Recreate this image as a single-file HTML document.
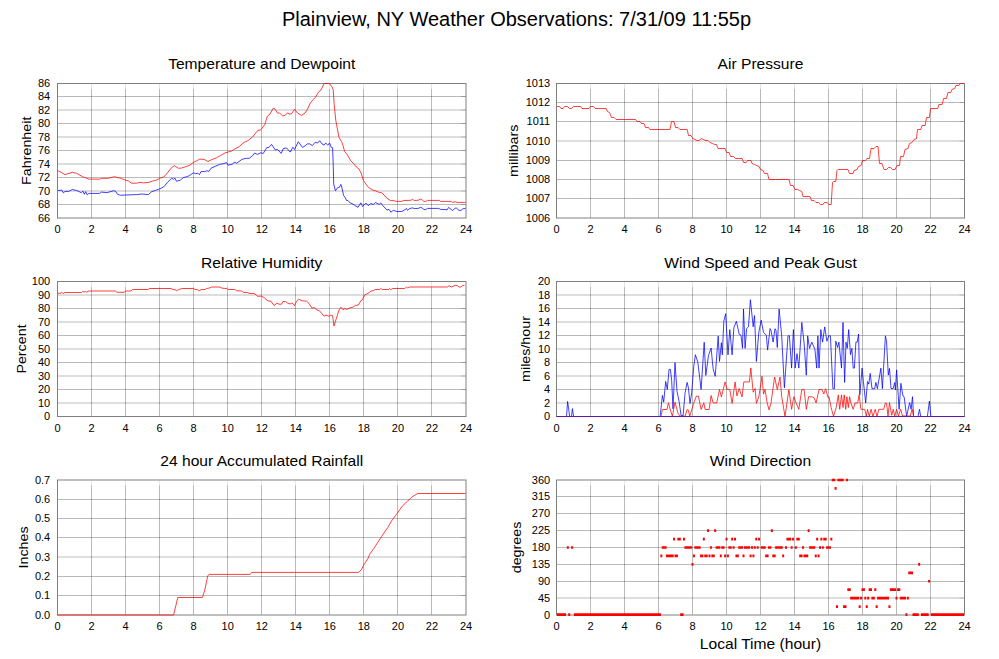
<!DOCTYPE html>
<html><head><meta charset="utf-8"><title>Plainview, NY Weather Observations</title>
<style>html,body{margin:0;padding:0;background:#fff;overflow:hidden}svg{display:block}</style>
</head><body>
<svg width="999" height="659" viewBox="0 0 999 659" font-family='"Liberation Sans", Arial, Helvetica, sans-serif' fill="#000">
<rect width="999" height="659" fill="#fff"/>
<text x="516.5" y="26" text-anchor="middle" font-size="20">Plainview, NY Weather Observations: 7/31/09 11:55p</text>
<path d="M91.5 89V218M125.5 89V218M159.5 89V218M193.5 89V218M227.5 89V218M261.5 89V218M295.5 89V218M329.5 89V218M363.5 89V218M397.5 89V218M431.5 89V218M57.5 96.5H461M57.5 110H461M57.5 123.5H461M57.5 137H461M57.5 150.5H461M57.5 164H461M57.5 177.5H461M57.5 191H461M57.5 204.5H461" stroke="#000" stroke-opacity="0.27" stroke-width="1" fill="none"/>
<path d="M91.5 83.5V89M125.5 83.5V89M159.5 83.5V89M193.5 83.5V89M227.5 83.5V89M261.5 83.5V89M295.5 83.5V89M329.5 83.5V89M363.5 83.5V89M397.5 83.5V89M431.5 83.5V89" stroke="#000" stroke-opacity="0.1" stroke-width="1" fill="none"/>
<path d="M461 96.5H466M461 110H466M461 123.5H466M461 137H466M461 150.5H466M461 164H466M461 177.5H466M461 191H466M461 204.5H466" stroke="#000" stroke-opacity="0.4" stroke-width="1" fill="none"/>
<rect x="57.5" y="83.5" width="408.5" height="134.5" stroke="#808080" stroke-width="1" fill="none"/>
<polyline points="58,190.5 59.1,190.5 61.8,190 63.4,192.9 65,191.4 68.7,191.4 72.4,189.5 76.7,190.5 81.4,192.7 83,191.1 84.4,194.3 85.7,191.6 87.3,194.8 88.9,193.4 99.5,193.4 101.6,192.1 106.9,192.7 113.3,190.8 115.4,191.1 117.5,194.3 120.7,195.3 125,195 136.7,194.6 142,194 148.4,194.6 151.6,191.7 155.8,190.3 160.1,188.7 163.8,186.8 167.5,182.4 171.7,178.1 173.3,179.4 174.9,178.1 176.5,181.3 180.2,180.2 183.4,177.6 187.7,176.5 190.3,174.9 193.5,172.8 195.7,173.7 197.8,173.2 199.4,174.8 201,171.6 204.7,171.6 206.8,170.8 208.9,171.4 211.1,168.2 215.3,166.3 219.6,164.4 223.8,163.6 226.5,162.6 228.1,165.2 232.3,164 235,162 236.6,163.3 241.9,159.4 246.1,158.3 249.3,158.3 252.5,155.7 254.6,153 257.3,154.4 261,152.7 263.1,153.6 266.8,147.6 269,147.3 271.6,144.4 275.3,150 277.5,149.4 281.2,153.4 283.3,148.6 286.5,147.9 290.2,152.1 292.9,147.3 294.5,149.4 298.4,141.7 302.4,147.3 305,146 307.1,143.9 309.8,143.9 312.4,145.5 315.1,142.3 317.7,143 319.7,140.7 322,143.9 324.1,145.1 325.7,143 327.8,145.1 329.6,143 331.4,147.5 332.6,147.7 333.3,166.9 333.7,183.9 335.4,190.8 337.7,187.6 339.3,187.3 340.9,184.4 342,188.1 343.6,195.5 345,197.2 346.4,200.3 348.2,200.7 350.3,203.1 352,203.5 354.8,205.4 358,207.3 360.8,202.8 362.5,206.5 366,203.1 368.1,205.6 370.9,203.5 373.4,204.5 375.5,202.4 377.9,203.8 379.3,204.4 380.7,202.8 382.8,205.6 387,210.1 389.1,209.4 390.9,212.2 393.4,210.3 396.9,211.5 401.8,211.5 405.3,209.4 406.5,208.4 407.6,210.4 409.2,208.7 412.2,207.9 414.8,208.6 418,208.4 420.6,207.4 421.9,207.8 423.9,209.4 425.8,209.6 427.4,208.4 438.8,208.4 440.5,209.4 446,209.6 447,210 448.6,207.4 449.9,208.4 451.5,209.7 452.8,210.5 454.4,208.7 456.1,207.8 459,210.4 461,210.4 462.6,208.9 465.5,208.4" stroke="#0000ff" stroke-width="1" stroke-opacity="0.75" fill="none" stroke-linejoin="round"/>
<polyline points="58,171 59.1,171.2 65,174.6 72.4,172.3 76.7,173.3 82.5,176.7 88.9,179.1 99.5,179.2 101.6,178.3 108,178.3 114.4,176.7 120.7,178.3 125,180 128.2,180.8 131.4,183.2 136.7,183.2 139.9,182.4 143.6,182.9 148.9,182.4 152.6,181.1 156.9,180 160.1,178.1 163.8,177 167.5,172.8 171.7,167.5 174.4,165.7 178.6,168.3 181.8,168 186.6,166.4 189.8,165.2 193,162.6 196.2,161 199.9,159.1 204.2,159.4 207.9,161.5 211.6,159.7 216.4,157.8 220.6,155.5 224.9,153 228.1,152 231.2,151.2 235.5,148.5 239.2,146.6 244,142.4 247.7,140.8 252.5,137.1 257.8,130.4 259.9,130.2 261,129.5 264.7,124.7 267.4,116.2 270,114.1 273.2,108.3 274.8,108.8 277.5,113.1 279.6,113.1 282.8,116 285.4,115.2 287.6,112.8 289.1,113.9 291.3,114.1 294.5,109.3 297.6,113.1 301.4,115.4 305,113 307.1,109.9 310.3,103 313,99.8 315.6,97.1 318.3,92.3 320.9,90.2 324.1,83.5 329.4,83.5 332.1,87 333.2,89.7 334.2,104.6 335.8,120.5 337.4,129 339,137.5 341.6,141.7 342.5,144 344.7,151.5 347.3,154.7 350.5,160.5 353.7,163.7 356.3,166.9 359,169 361.1,173.2 363.4,180.4 366,184.2 368.8,187.7 373,190.2 375.8,190.9 379.3,192.5 381.4,192.6 384.2,195.1 387,198.4 390.5,200.5 394.1,200.7 396.2,201.4 401.8,201.4 403.2,200.5 410.9,200.3 412.5,199.3 414.4,200.5 418,200.3 420.3,199.2 421.9,199.6 423.9,201.4 425.8,201.4 427.4,200.4 439.5,200.4 440.5,201.4 451.2,201.4 452.5,202.4 455.7,201.8 457,202.4 465.5,202.4" stroke="#ff0000" stroke-width="1" stroke-opacity="0.75" fill="none" stroke-linejoin="round"/>
<text x="57.5" y="233" text-anchor="middle" font-size="11">0</text>
<text x="91.54" y="233" text-anchor="middle" font-size="11">2</text>
<text x="125.58" y="233" text-anchor="middle" font-size="11">4</text>
<text x="159.62" y="233" text-anchor="middle" font-size="11">6</text>
<text x="193.67" y="233" text-anchor="middle" font-size="11">8</text>
<text x="227.71" y="233" text-anchor="middle" font-size="11">10</text>
<text x="261.75" y="233" text-anchor="middle" font-size="11">12</text>
<text x="295.79" y="233" text-anchor="middle" font-size="11">14</text>
<text x="329.83" y="233" text-anchor="middle" font-size="11">16</text>
<text x="363.88" y="233" text-anchor="middle" font-size="11">18</text>
<text x="397.92" y="233" text-anchor="middle" font-size="11">20</text>
<text x="431.96" y="233" text-anchor="middle" font-size="11">22</text>
<text x="466" y="233" text-anchor="middle" font-size="11">24</text>
<text x="50.2" y="222" text-anchor="end" font-size="11">66</text>
<text x="50.2" y="208" text-anchor="end" font-size="11">68</text>
<text x="50.2" y="195" text-anchor="end" font-size="11">70</text>
<text x="50.2" y="181" text-anchor="end" font-size="11">72</text>
<text x="50.2" y="168" text-anchor="end" font-size="11">74</text>
<text x="50.2" y="154" text-anchor="end" font-size="11">76</text>
<text x="50.2" y="141" text-anchor="end" font-size="11">78</text>
<text x="50.2" y="127" text-anchor="end" font-size="11">80</text>
<text x="50.2" y="114" text-anchor="end" font-size="11">82</text>
<text x="50.2" y="100" text-anchor="end" font-size="11">84</text>
<text x="50.2" y="87" text-anchor="end" font-size="11">86</text>
<text transform="translate(261.75 68.8) scale(1.04 1)" text-anchor="middle" font-size="15">Temperature and Dewpoint</text>
<text transform="translate(31.3 150.75) rotate(-90) scale(1 0.92)" text-anchor="middle" font-size="14.3">Fahrenheit</text>
<path d="M590.5 89V218M624.5 89V218M658.5 89V218M692.5 89V218M726.5 89V218M760.5 89V218M794.5 89V218M828.5 89V218M862.5 89V218M896.5 89V218M930.5 89V218M556.5 102.5H959.5M556.5 121.5H959.5M556.5 141H959.5M556.5 160.5H959.5M556.5 179.5H959.5M556.5 198.5H959.5" stroke="#000" stroke-opacity="0.27" stroke-width="1" fill="none"/>
<path d="M590.5 83.5V89M624.5 83.5V89M658.5 83.5V89M692.5 83.5V89M726.5 83.5V89M760.5 83.5V89M794.5 83.5V89M828.5 83.5V89M862.5 83.5V89M896.5 83.5V89M930.5 83.5V89" stroke="#000" stroke-opacity="0.1" stroke-width="1" fill="none"/>
<path d="M959.5 102.5H964.5M959.5 121.5H964.5M959.5 141H964.5M959.5 160.5H964.5M959.5 179.5H964.5M959.5 198.5H964.5" stroke="#000" stroke-opacity="0.4" stroke-width="1" fill="none"/>
<rect x="556.5" y="83.5" width="408" height="134.5" stroke="#808080" stroke-width="1" fill="none"/>
<polyline points="557,106.5 559.5,106.5 561,108.5 563,108.5 564.5,106.5 567.5,106.5 569.5,108.5 571.5,108.5 573.5,106.5 580.5,106.5 582,108.5 589,108.5 590.5,106.5 593.5,106.5 595,108.5 606.2,108.5 607.5,111.5 609.5,112.5 611.5,117.5 614,117.5 616,119.5 635.5,119.5 637,121.5 640,121.5 641.5,123.5 644,123.5 645.5,127.5 648.5,127.5 650,129.5 670,129.5 671.5,121.5 674,121.5 675.5,127.5 678,127.5 679.8,129.5 687.2,129.5 688.5,135.5 691,135.5 692.8,138.5 695,139.5 697,140.5 699,140.5 701.5,138.5 703.5,139.5 705.5,140.5 708,140.5 710,142.5 712.5,143.5 714.5,144.5 716.5,144.5 718,148.5 725,148.5 726.6,152.5 729.1,152.5 730.6,156.5 733.6,156.5 735.6,158.5 742.1,158.5 743.6,162.5 746.1,162.5 747.6,160.5 751,160.5 752,163.5 754.5,164.5 756.5,165.5 759,166.5 760.5,169.5 763,170.5 764.5,173.5 767.5,173.5 769,179.5 789,179.5 790.5,185.5 793,185.5 795,189.5 797.5,189.5 799.5,190.5 801.8,191.5 803,196.5 810,196.5 811.5,200.5 814,200.5 816,202.5 818.5,202.5 820.5,204.5 823,204.5 824.5,202.5 827,202.5 828.8,204.5 831.2,204.5 832.5,182.5 833.5,181.5 835.8,181.5 837,170.5 838,169.5 848,169.5 849.5,173.5 853,173.5 854,170.5 857,169.5 858.5,166.5 861,165.5 862.5,160.5 865.5,160.5 867,158.5 869.5,158.5 871,148.5 874,148.5 876,146.5 878,146.5 879.5,163.5 882,163.5 884,169.5 886.5,169.5 888.5,167.5 890.5,167.5 892.5,169.5 895,169.5 897,165.5 899.5,165.5 900.5,156.5 903.5,156.5 905,149.5 908,148.5 909.5,143.5 912,142.5 914,139.5 916.5,138.5 917.5,129.5 920.8,129.5 922,125.5 925.1,125.5 926.5,117.5 929.4,117.5 930.6,108.5 937.7,108.5 938.9,104.5 942.1,104.5 943.6,98.5 946.4,98.5 948,92.5 950.7,92.5 951.9,89.5 954.7,88.5 955.9,85.5 958.6,85.5 960.6,83.5 964,83.5" stroke="#ff0000" stroke-width="1" stroke-opacity="0.75" fill="none" stroke-linejoin="round"/>
<text x="556.5" y="233" text-anchor="middle" font-size="11">0</text>
<text x="590.5" y="233" text-anchor="middle" font-size="11">2</text>
<text x="624.5" y="233" text-anchor="middle" font-size="11">4</text>
<text x="658.5" y="233" text-anchor="middle" font-size="11">6</text>
<text x="692.5" y="233" text-anchor="middle" font-size="11">8</text>
<text x="726.5" y="233" text-anchor="middle" font-size="11">10</text>
<text x="760.5" y="233" text-anchor="middle" font-size="11">12</text>
<text x="794.5" y="233" text-anchor="middle" font-size="11">14</text>
<text x="828.5" y="233" text-anchor="middle" font-size="11">16</text>
<text x="862.5" y="233" text-anchor="middle" font-size="11">18</text>
<text x="896.5" y="233" text-anchor="middle" font-size="11">20</text>
<text x="930.5" y="233" text-anchor="middle" font-size="11">22</text>
<text x="964.5" y="233" text-anchor="middle" font-size="11">24</text>
<text x="550.2" y="222" text-anchor="end" font-size="11">1006</text>
<text x="550.2" y="202" text-anchor="end" font-size="11">1007</text>
<text x="550.2" y="183" text-anchor="end" font-size="11">1008</text>
<text x="550.2" y="164" text-anchor="end" font-size="11">1009</text>
<text x="550.2" y="145" text-anchor="end" font-size="11">1010</text>
<text x="550.2" y="125" text-anchor="end" font-size="11">1011</text>
<text x="550.2" y="106" text-anchor="end" font-size="11">1012</text>
<text x="550.2" y="87" text-anchor="end" font-size="11">1013</text>
<text transform="translate(760.5 68.8) scale(1.04 1)" text-anchor="middle" font-size="15">Air Pressure</text>
<text transform="translate(517.6 150.75) rotate(-90) scale(1 0.92)" text-anchor="middle" font-size="14.3">millibars</text>
<path d="M91.5 287V416.5M125.5 287V416.5M159.5 287V416.5M193.5 287V416.5M227.5 287V416.5M261.5 287V416.5M295.5 287V416.5M329.5 287V416.5M363.5 287V416.5M397.5 287V416.5M431.5 287V416.5M57.5 295H461M57.5 308.5H461M57.5 322H461M57.5 335.5H461M57.5 349H461M57.5 362.5H461M57.5 376H461M57.5 389.5H461M57.5 403H461" stroke="#000" stroke-opacity="0.27" stroke-width="1" fill="none"/>
<path d="M91.5 281.5V287M125.5 281.5V287M159.5 281.5V287M193.5 281.5V287M227.5 281.5V287M261.5 281.5V287M295.5 281.5V287M329.5 281.5V287M363.5 281.5V287M397.5 281.5V287M431.5 281.5V287" stroke="#000" stroke-opacity="0.1" stroke-width="1" fill="none"/>
<path d="M461 295H466M461 308.5H466M461 322H466M461 335.5H466M461 349H466M461 362.5H466M461 376H466M461 389.5H466M461 403H466" stroke="#000" stroke-opacity="0.4" stroke-width="1" fill="none"/>
<rect x="57.5" y="281.5" width="408.5" height="135" stroke="#808080" stroke-width="1" fill="none"/>
<polyline points="58,293.3 60.5,293.3 61.8,292.3 62.5,292.8 63.5,293.5 64.8,292.5 81.5,292.5 82.8,291.3 84,292.3 85.3,291.3 86.8,292.3 88,291.3 89,291 115.5,291 117,292.3 124,292.3 126,291 131,291 132.5,289.5 148,289.5 149.5,288.5 171,288.5 173,289.5 175,289.7 176.5,290.8 179,289.5 182,288.5 193.5,288.5 195,289.5 197.5,289.7 199.3,290.8 201.5,289.5 205,289.5 206.5,288.5 209.5,288 211.5,287 220,287 222,288.2 227,288.5 228,289.5 234.5,289.5 236.5,290.7 241.5,291 243.5,292.3 247.5,292.5 249,293.3 253,293.5 255,294 257.5,296.2 261.5,296.2 264,297.5 268,301 271,301.2 274,305.5 277,303.2 279,304.2 281.5,304.2 283,301.5 285.5,301.5 287.5,303 290,304 291.5,303.2 293,303.5 294.5,305.8 296.5,301.5 298.5,299.2 302,300.8 306.5,301.2 309,303.5 312,308.2 314,307.5 317,310 319.5,310.8 324,316.2 326,315.2 329,316.2 330.5,315.2 332.5,315.5 334,326 336,319.5 339,310 341,307.2 343,309.8 345,308.5 346.5,309.5 349,308.2 353,307.1 355.4,305.4 358.4,305 360.8,300.8 362,300.2 365,294.8 368,293.4 371,291 373.4,290.6 375.2,289.5 379.4,289.5 380.6,288.6 382.4,289.5 388.4,289.5 389.6,288.6 390.8,289.7 392.6,288.5 404.7,288.5 406.5,287 407.7,287.8 409.5,287 447.3,287 449.1,285.8 451.5,287 455.1,285.4 457.5,285.8 459.9,287.4 462.3,285.8 464.5,285.2" stroke="#ff0000" stroke-width="1" stroke-opacity="0.75" fill="none" stroke-linejoin="round"/>
<text x="57.5" y="431.5" text-anchor="middle" font-size="11">0</text>
<text x="91.54" y="431.5" text-anchor="middle" font-size="11">2</text>
<text x="125.58" y="431.5" text-anchor="middle" font-size="11">4</text>
<text x="159.62" y="431.5" text-anchor="middle" font-size="11">6</text>
<text x="193.67" y="431.5" text-anchor="middle" font-size="11">8</text>
<text x="227.71" y="431.5" text-anchor="middle" font-size="11">10</text>
<text x="261.75" y="431.5" text-anchor="middle" font-size="11">12</text>
<text x="295.79" y="431.5" text-anchor="middle" font-size="11">14</text>
<text x="329.83" y="431.5" text-anchor="middle" font-size="11">16</text>
<text x="363.88" y="431.5" text-anchor="middle" font-size="11">18</text>
<text x="397.92" y="431.5" text-anchor="middle" font-size="11">20</text>
<text x="431.96" y="431.5" text-anchor="middle" font-size="11">22</text>
<text x="466" y="431.5" text-anchor="middle" font-size="11">24</text>
<text x="50.2" y="420" text-anchor="end" font-size="11">0</text>
<text x="50.2" y="407" text-anchor="end" font-size="11">10</text>
<text x="50.2" y="393" text-anchor="end" font-size="11">20</text>
<text x="50.2" y="380" text-anchor="end" font-size="11">30</text>
<text x="50.2" y="366" text-anchor="end" font-size="11">40</text>
<text x="50.2" y="353" text-anchor="end" font-size="11">50</text>
<text x="50.2" y="339" text-anchor="end" font-size="11">60</text>
<text x="50.2" y="326" text-anchor="end" font-size="11">70</text>
<text x="50.2" y="312" text-anchor="end" font-size="11">80</text>
<text x="50.2" y="299" text-anchor="end" font-size="11">90</text>
<text x="50.2" y="285" text-anchor="end" font-size="11">100</text>
<text transform="translate(261.75 267.9) scale(1.04 1)" text-anchor="middle" font-size="15">Relative Humidity</text>
<text transform="translate(25.8 349) rotate(-90) scale(1 0.92)" text-anchor="middle" font-size="14.3">Percent</text>
<path d="M590.5 287V416.5M624.5 287V416.5M658.5 287V416.5M692.5 287V416.5M726.5 287V416.5M760.5 287V416.5M794.5 287V416.5M828.5 287V416.5M862.5 287V416.5M896.5 287V416.5M930.5 287V416.5M556.5 295H959.5M556.5 308.5H959.5M556.5 322H959.5M556.5 335.5H959.5M556.5 349H959.5M556.5 362.5H959.5M556.5 376H959.5M556.5 389.5H959.5M556.5 403H959.5" stroke="#000" stroke-opacity="0.27" stroke-width="1" fill="none"/>
<path d="M590.5 281.5V287M624.5 281.5V287M658.5 281.5V287M692.5 281.5V287M726.5 281.5V287M760.5 281.5V287M794.5 281.5V287M828.5 281.5V287M862.5 281.5V287M896.5 281.5V287M930.5 281.5V287" stroke="#000" stroke-opacity="0.1" stroke-width="1" fill="none"/>
<path d="M959.5 295H964.5M959.5 308.5H964.5M959.5 322H964.5M959.5 335.5H964.5M959.5 349H964.5M959.5 362.5H964.5M959.5 376H964.5M959.5 389.5H964.5M959.5 403H964.5" stroke="#000" stroke-opacity="0.4" stroke-width="1" fill="none"/>
<rect x="556.5" y="281.5" width="408" height="135" stroke="#808080" stroke-width="1" fill="none"/>
<polyline points="557,416.5 566.5,416.5 567.6,401.4 569.7,416.5 571.5,416.5 572.4,408.6 573.6,416.5 660.1,416.5 662.4,395.5 663.7,402.2 665.7,381.4 667.3,389.5 669,369.4 670.4,369.4 671.7,380.8 673,408.8 675,362.7 677,391.5 679.1,401.5 681.1,415.5 683.1,415.5 685.1,392.8 687.1,382.4 688.4,387.5 690,403.5 691.7,392.8 693.8,366.1 695.4,354.7 697.8,362.1 701.1,389.5 704.2,342.3 705.8,375.4 708.5,355.4 711.1,348 713.1,368.8 715.2,376.3 718.2,336.1 719.5,361.4 721.4,342.7 722.3,354.8 723.8,321.2 725.7,313.7 728,354.8 729.8,329.6 732.1,354.8 733.9,327.7 736.4,321.2 739.2,334.3 741,335.2 742.5,348.3 743.5,309 745.1,348.3 746.6,328.6 748.5,326.8 750.4,299.7 753.2,326.8 754.5,315.6 756.4,361.4 758.8,332.4 761.2,320.2 763.5,332.4 766.3,335.2 767.6,350.1 770,328.6 771,330.4 773.1,342.1 775,328.7 776,330.4 777.3,347.5 779.1,309 781.7,335.8 784.4,387.8 788,335.8 789.4,335.8 791.6,368.1 793.4,329.6 795.2,368.1 797,353.7 798.8,368.1 801.8,322.4 804.1,343 806.3,375.2 807.7,335.8 809.5,348.4 811.8,342.1 814.9,349.3 816.7,368.1 817.9,335.8 819,368.1 820.8,329.6 822.6,342.1 824.7,326.9 826.9,341.2 828.7,335.8 830.4,335.8 832.9,388.7 834.4,388.7 835.8,341.2 837.6,347.5 838.9,342.1 841.5,368.1 843,322.4 844.6,382.4 846,342.1 847.3,348.4 848.7,329.6 850.5,354.6 851.9,348.4 853.2,368.1 854.4,368.1 855.9,342.1 857.3,342.1 858.6,334 859.8,394.9 862.1,368.1 863.4,381.5 865.7,403 867.5,381.5 868.8,384.2 870.2,373.4 872,388.7 874.7,388.7 875.9,382.4 877.4,388.7 880.9,368.1 882.4,388.7 885.4,335.8 886.5,340.8 888.3,375.1 889.5,368.4 891,388.5 893.2,388.5 894.7,382.5 895.4,390 896.6,369.9 899.1,409.3 900.9,383.3 902.9,395.9 904.1,396.7 906.6,416.5 909.6,402.6 911.1,409.3 912.5,396.7 913.6,416.5 918,416.5 919.5,409.3 920.7,416.5 927.4,416.5 929.4,401.1 930.9,416.5 964,416.5" stroke="#0000ff" stroke-width="1" stroke-opacity="0.75" fill="none" stroke-linejoin="round"/>
<polyline points="557,416.5 661,416.5 662.4,409.5 667,409.5 668.4,402.8 670.4,410.2 672.4,416.2 675,402.2 677.7,412.2 679.7,416.2 685.1,416.2 687.1,409.5 688.4,410.2 689.7,416.5 693.8,402.8 696.4,396.1 698.4,396.1 701.1,409.5 703.8,402.8 705.1,409.5 709.1,409.5 711.1,395.5 713.1,402.8 716.7,403 719.5,389.4 721.4,396.9 725.1,381.9 727,389.4 729.8,389.4 732.1,403.4 735.1,381.9 736.9,395.9 739.2,388.5 742,396.9 743.8,381.9 749.4,381.9 750.8,367.9 753.2,392.2 755.1,388.5 756.4,403.4 758.8,396.9 762,376.3 763.5,394.1 765,389.4 767.2,403 769.1,409.9 771,403 774.6,377 777.3,389.6 780,377 781.7,396.7 785,416.4 788.9,389.6 791.6,409.3 793.9,396.7 796.1,403 798.8,409.3 801.8,389.6 804.1,389.6 806.3,409.3 808.6,396.7 811.3,396.7 814,397.6 816.1,403 819,389.6 822,389.6 823.8,394 825.6,388.7 828,397.6 829,396.7 831.1,407.5 833.5,416.4 836.2,407.5 838.3,394.9 839.7,409.3 841.5,394.9 843,407.5 844.2,394.9 845.7,409.3 846.9,396.7 848.3,407.5 849.6,396.7 850.9,403 853.2,409.3 855,403 857.7,403 859.1,394.9 860.9,409.3 864.8,409.3 866.3,416.4 867.5,409.3 869.3,416.4 871.1,409.3 872.9,416.4 875.2,409.3 877,416.4 878.8,409.3 883.6,409.3 885.4,403 886.5,403.1 888,416 889.5,402.6 891.7,415.3 893.2,409.3 894.7,416 896.6,409.3 898.4,416 900.6,409.3 902.6,416 910.3,416 912.1,409.3 913.6,416.5 964,416.5" stroke="#ff0000" stroke-width="1" stroke-opacity="0.75" fill="none" stroke-linejoin="round"/>
<path d="M556.5 416.5H964.5" stroke="#5a18a8" stroke-width="1"/>
<text x="556.5" y="431.5" text-anchor="middle" font-size="11">0</text>
<text x="590.5" y="431.5" text-anchor="middle" font-size="11">2</text>
<text x="624.5" y="431.5" text-anchor="middle" font-size="11">4</text>
<text x="658.5" y="431.5" text-anchor="middle" font-size="11">6</text>
<text x="692.5" y="431.5" text-anchor="middle" font-size="11">8</text>
<text x="726.5" y="431.5" text-anchor="middle" font-size="11">10</text>
<text x="760.5" y="431.5" text-anchor="middle" font-size="11">12</text>
<text x="794.5" y="431.5" text-anchor="middle" font-size="11">14</text>
<text x="828.5" y="431.5" text-anchor="middle" font-size="11">16</text>
<text x="862.5" y="431.5" text-anchor="middle" font-size="11">18</text>
<text x="896.5" y="431.5" text-anchor="middle" font-size="11">20</text>
<text x="930.5" y="431.5" text-anchor="middle" font-size="11">22</text>
<text x="964.5" y="431.5" text-anchor="middle" font-size="11">24</text>
<text x="550.2" y="420" text-anchor="end" font-size="11">0</text>
<text x="550.2" y="407" text-anchor="end" font-size="11">2</text>
<text x="550.2" y="393" text-anchor="end" font-size="11">4</text>
<text x="550.2" y="380" text-anchor="end" font-size="11">6</text>
<text x="550.2" y="366" text-anchor="end" font-size="11">8</text>
<text x="550.2" y="353" text-anchor="end" font-size="11">10</text>
<text x="550.2" y="339" text-anchor="end" font-size="11">12</text>
<text x="550.2" y="326" text-anchor="end" font-size="11">14</text>
<text x="550.2" y="312" text-anchor="end" font-size="11">16</text>
<text x="550.2" y="299" text-anchor="end" font-size="11">18</text>
<text x="550.2" y="285" text-anchor="end" font-size="11">20</text>
<text transform="translate(760.5 267.9) scale(1.04 1)" text-anchor="middle" font-size="15">Wind Speed and Peak Gust</text>
<text transform="translate(529.5 349) rotate(-90) scale(1 0.92)" text-anchor="middle" font-size="14.3">miles/hour</text>
<path d="M91.5 485.5V615M125.5 485.5V615M159.5 485.5V615M193.5 485.5V615M227.5 485.5V615M261.5 485.5V615M295.5 485.5V615M329.5 485.5V615M363.5 485.5V615M397.5 485.5V615M431.5 485.5V615M57.5 499.5H461M57.5 518.5H461M57.5 537.5H461M57.5 557H461M57.5 576.5H461M57.5 595.5H461" stroke="#000" stroke-opacity="0.27" stroke-width="1" fill="none"/>
<path d="M91.5 480V485.5M125.5 480V485.5M159.5 480V485.5M193.5 480V485.5M227.5 480V485.5M261.5 480V485.5M295.5 480V485.5M329.5 480V485.5M363.5 480V485.5M397.5 480V485.5M431.5 480V485.5" stroke="#000" stroke-opacity="0.1" stroke-width="1" fill="none"/>
<path d="M461 499.5H466M461 518.5H466M461 537.5H466M461 557H466M461 576.5H466M461 595.5H466" stroke="#000" stroke-opacity="0.4" stroke-width="1" fill="none"/>
<rect x="57.5" y="480" width="408.5" height="135" stroke="#808080" stroke-width="1" fill="none"/>
<polyline points="57.5,615 173.6,615 177.8,597.5 202.4,597.5 204.8,590 207.8,575.6 209.4,574.4 250.2,574.4 251.7,572.4 358.3,572.4 361.4,569.8 363.7,565 368.2,558.1 369.7,554.3 375,546.7 377.3,543 381.9,536.1 387.9,527.3 392.5,519.4 397,513.7 402.3,506.1 407.6,501.2 411.4,497.4 417.5,493.5 465.5,493.5" stroke="#ff0000" stroke-width="1" stroke-opacity="0.75" fill="none" stroke-linejoin="round"/>
<text x="57.5" y="630" text-anchor="middle" font-size="11">0</text>
<text x="91.54" y="630" text-anchor="middle" font-size="11">2</text>
<text x="125.58" y="630" text-anchor="middle" font-size="11">4</text>
<text x="159.62" y="630" text-anchor="middle" font-size="11">6</text>
<text x="193.67" y="630" text-anchor="middle" font-size="11">8</text>
<text x="227.71" y="630" text-anchor="middle" font-size="11">10</text>
<text x="261.75" y="630" text-anchor="middle" font-size="11">12</text>
<text x="295.79" y="630" text-anchor="middle" font-size="11">14</text>
<text x="329.83" y="630" text-anchor="middle" font-size="11">16</text>
<text x="363.88" y="630" text-anchor="middle" font-size="11">18</text>
<text x="397.92" y="630" text-anchor="middle" font-size="11">20</text>
<text x="431.96" y="630" text-anchor="middle" font-size="11">22</text>
<text x="466" y="630" text-anchor="middle" font-size="11">24</text>
<text x="50.2" y="619" text-anchor="end" font-size="11">0.0</text>
<text x="50.2" y="599" text-anchor="end" font-size="11">0.1</text>
<text x="50.2" y="580" text-anchor="end" font-size="11">0.2</text>
<text x="50.2" y="561" text-anchor="end" font-size="11">0.3</text>
<text x="50.2" y="541" text-anchor="end" font-size="11">0.4</text>
<text x="50.2" y="522" text-anchor="end" font-size="11">0.5</text>
<text x="50.2" y="503" text-anchor="end" font-size="11">0.6</text>
<text x="50.2" y="484" text-anchor="end" font-size="11">0.7</text>
<text transform="translate(261.75 466.1) scale(1.04 1)" text-anchor="middle" font-size="15">24 hour Accumulated Rainfall</text>
<text transform="translate(27.8 547.5) rotate(-90) scale(1 0.92)" text-anchor="middle" font-size="14.3">Inches</text>
<path d="M590.5 485.5V615M624.5 485.5V615M658.5 485.5V615M692.5 485.5V615M726.5 485.5V615M760.5 485.5V615M794.5 485.5V615M828.5 485.5V615M862.5 485.5V615M896.5 485.5V615M930.5 485.5V615M556.5 496.5H959.5M556.5 513.5H959.5M556.5 530.5H959.5M556.5 547.5H959.5M556.5 564.5H959.5M556.5 581.5H959.5M556.5 598H959.5" stroke="#000" stroke-opacity="0.27" stroke-width="1" fill="none"/>
<path d="M590.5 480V485.5M624.5 480V485.5M658.5 480V485.5M692.5 480V485.5M726.5 480V485.5M760.5 480V485.5M794.5 480V485.5M828.5 480V485.5M862.5 480V485.5M896.5 480V485.5M930.5 480V485.5" stroke="#000" stroke-opacity="0.1" stroke-width="1" fill="none"/>
<path d="M959.5 496.5H964.5M959.5 513.5H964.5M959.5 530.5H964.5M959.5 547.5H964.5M959.5 564.5H964.5M959.5 581.5H964.5M959.5 598H964.5" stroke="#000" stroke-opacity="0.4" stroke-width="1" fill="none"/>
<rect x="556.5" y="480" width="408" height="135" stroke="#808080" stroke-width="1" fill="none"/>
<path d="M556.92 614.7h2M558.33 614.7h2M559.75 614.7h2M561.17 614.7h2M562.58 614.7h2M564 614.7h2M566.83 547.5h2M568.25 614.7h2M571.08 547.5h2M573.92 614.7h2M575.33 614.7h2M576.75 614.7h2M578.17 614.7h2M579.58 614.7h2M581 614.7h2M582.42 614.7h2M583.83 614.7h2M585.25 614.7h2M586.67 614.7h2M588.08 614.7h2M589.5 614.7h2M590.92 614.7h2M592.33 614.7h2M593.75 614.7h2M595.17 614.7h2M596.58 614.7h2M598 614.7h2M599.42 614.7h2M600.83 614.7h2M602.25 614.7h2M603.67 614.7h2M605.08 614.7h2M606.5 614.7h2M607.92 614.7h2M609.33 614.7h2M610.75 614.7h2M612.17 614.7h2M613.58 614.7h2M615 614.7h2M616.42 614.7h2M617.83 614.7h2M619.25 614.7h2M620.67 614.7h2M622.08 614.7h2M623.5 614.7h2M624.92 614.7h2M626.33 614.7h2M627.75 614.7h2M629.17 614.7h2M630.58 614.7h2M632 614.7h2M633.42 614.7h2M634.83 614.7h2M636.25 614.7h2M637.67 614.7h2M639.08 614.7h2M640.5 614.7h2M641.92 614.7h2M643.33 614.7h2M644.75 614.7h2M646.17 614.7h2M647.58 614.7h2M649 614.7h2M650.42 614.7h2M651.83 614.7h2M653.25 614.7h2M654.67 614.7h2M656.08 614.7h2M657.5 614.7h2M658.92 614.7h2M660.33 555.94h2M661.75 547.5h2M663.17 547.5h2M664.58 547.5h2M666 555.94h2M667.42 555.94h2M668.83 555.94h2M670.25 555.94h2M671.67 555.94h2M673.08 539.06h2M674.5 555.94h2M675.92 555.94h2M677.33 539.06h2M678.75 539.06h2M680.17 614.7h2M681.58 614.7h2M683 539.06h2M684.42 547.5h2M685.83 547.5h2M687.25 547.5h2M688.67 547.5h2M690.08 547.5h2M691.5 564.38h2M692.92 555.94h2M694.33 547.5h2M695.75 547.5h2M697.17 547.5h2M698.58 547.5h2M700 555.94h2M701.42 555.94h2M702.83 539.06h2M704.25 555.94h2M705.67 555.94h2M707.08 530.62h2M708.5 555.94h2M709.92 547.5h2M711.33 555.94h2M712.75 555.94h2M714.17 530.62h2M715.58 547.5h2M717 547.5h2M718.42 547.5h2M719.83 555.94h2M721.25 547.5h2M722.67 547.5h2M724.08 555.94h2M725.5 539.06h2M726.92 555.94h2M728.33 547.5h2M729.75 547.5h2M731.17 539.06h2M732.58 547.5h2M734 539.06h2M735.42 555.94h2M736.83 555.94h2M738.25 547.5h2M739.67 547.5h2M741.08 547.5h2M742.5 555.94h2M743.92 547.5h2M745.33 547.5h2M746.75 547.5h2M748.17 547.5h2M749.58 555.94h2M751 547.5h2M752.42 555.94h2M753.83 547.5h2M755.25 539.06h2M756.67 547.5h2M758.08 539.06h2M760.92 547.5h2M762.33 547.5h2M763.75 547.5h2M765.17 555.94h2M766.58 555.94h2M768 547.5h2M769.42 547.5h2M770.83 530.62h2M772.25 555.94h2M773.67 555.94h2M775.08 547.5h2M776.5 547.5h2M777.92 547.5h2M779.33 547.5h2M780.75 547.5h2M782.17 555.94h2M785 547.5h2M786.42 539.06h2M787.83 539.06h2M789.25 539.06h2M790.67 547.5h2M792.08 539.06h2M794.92 547.5h2M796.33 539.06h2M797.75 539.06h2M799.17 555.94h2M800.58 555.94h2M802 547.5h2M803.42 555.94h2M804.83 555.94h2M806.25 555.94h2M807.67 530.62h2M809.08 547.5h2M810.5 547.5h2M811.92 547.5h2M813.33 547.5h2M814.75 555.94h2M816.17 539.06h2M817.58 555.94h2M819 547.5h2M820.42 539.06h2M821.83 547.5h2M823.25 539.06h2M824.67 539.06h2M826.08 547.5h2M827.5 547.5h2M828.92 547.5h2M830.33 539.06h2M831.75 480h2M833.17 480h2M834.58 488.44h2M836 606.56h2M837.42 480h2M838.83 480h2M840.25 480h2M841.67 480h2M843.08 606.56h2M844.5 606.56h2M845.92 480h2M847.33 589.69h2M848.75 589.69h2M850.17 598.12h2M851.58 598.12h2M853 598.12h2M854.42 598.12h2M855.83 598.12h2M857.25 598.12h2M858.67 606.56h2M860.08 598.12h2M861.5 589.69h2M862.92 589.69h2M864.33 598.12h2M865.75 606.56h2M867.17 598.12h2M868.58 589.69h2M870 589.69h2M871.42 598.12h2M872.83 598.12h2M874.25 589.69h2M875.67 606.56h2M877.08 598.12h2M878.5 598.12h2M879.92 598.12h2M881.33 598.12h2M882.75 598.12h2M884.17 598.12h2M885.58 598.12h2M887 598.12h2M888.42 606.56h2M889.83 589.69h2M891.25 589.69h2M892.67 589.69h2M894.08 589.69h2M895.5 598.12h2M896.92 589.69h2M898.33 589.69h2M899.75 598.12h2M901.17 598.12h2M902.58 598.12h2M904 598.12h2M905.42 614.7h2M906.83 598.12h2M908.25 572.81h2M909.67 572.81h2M911.08 572.81h2M912.5 614.7h2M913.92 614.7h2M915.33 614.7h2M916.75 614.7h2M918.17 564.38h2M921 614.7h2M922.42 614.7h2M923.83 614.7h2M925.25 614.7h2M926.67 614.7h2M928.08 581.25h2M930.92 614.7h2M932.33 614.7h2M933.75 614.7h2M935.17 614.7h2M936.58 614.7h2M938 614.7h2M939.42 614.7h2M940.83 614.7h2M942.25 614.7h2M943.67 614.7h2M945.08 614.7h2M946.5 614.7h2M947.92 614.7h2M949.33 614.7h2M950.75 614.7h2M952.17 614.7h2M953.58 614.7h2M955 614.7h2M956.42 614.7h2M957.83 614.7h2M959.25 614.7h2M960.67 614.7h2M962.08 614.7h2" stroke="#ff0000" stroke-width="2.7" fill="none"/>
<text x="556.5" y="630" text-anchor="middle" font-size="11">0</text>
<text x="590.5" y="630" text-anchor="middle" font-size="11">2</text>
<text x="624.5" y="630" text-anchor="middle" font-size="11">4</text>
<text x="658.5" y="630" text-anchor="middle" font-size="11">6</text>
<text x="692.5" y="630" text-anchor="middle" font-size="11">8</text>
<text x="726.5" y="630" text-anchor="middle" font-size="11">10</text>
<text x="760.5" y="630" text-anchor="middle" font-size="11">12</text>
<text x="794.5" y="630" text-anchor="middle" font-size="11">14</text>
<text x="828.5" y="630" text-anchor="middle" font-size="11">16</text>
<text x="862.5" y="630" text-anchor="middle" font-size="11">18</text>
<text x="896.5" y="630" text-anchor="middle" font-size="11">20</text>
<text x="930.5" y="630" text-anchor="middle" font-size="11">22</text>
<text x="964.5" y="630" text-anchor="middle" font-size="11">24</text>
<text x="550.2" y="619" text-anchor="end" font-size="11">0</text>
<text x="550.2" y="602" text-anchor="end" font-size="11">45</text>
<text x="550.2" y="585" text-anchor="end" font-size="11">90</text>
<text x="550.2" y="568" text-anchor="end" font-size="11">135</text>
<text x="550.2" y="551" text-anchor="end" font-size="11">180</text>
<text x="550.2" y="534" text-anchor="end" font-size="11">225</text>
<text x="550.2" y="517" text-anchor="end" font-size="11">270</text>
<text x="550.2" y="500" text-anchor="end" font-size="11">315</text>
<text x="550.2" y="484" text-anchor="end" font-size="11">360</text>
<text transform="translate(760.5 466.1) scale(1.04 1)" text-anchor="middle" font-size="15">Wind Direction</text>
<text transform="translate(520.8 547.5) rotate(-90) scale(1 0.92)" text-anchor="middle" font-size="14.3">degrees</text>
<text transform="translate(760.5 649) scale(1.04 1)" text-anchor="middle" font-size="15">Local Time (hour)</text>
</svg>
</body></html>
